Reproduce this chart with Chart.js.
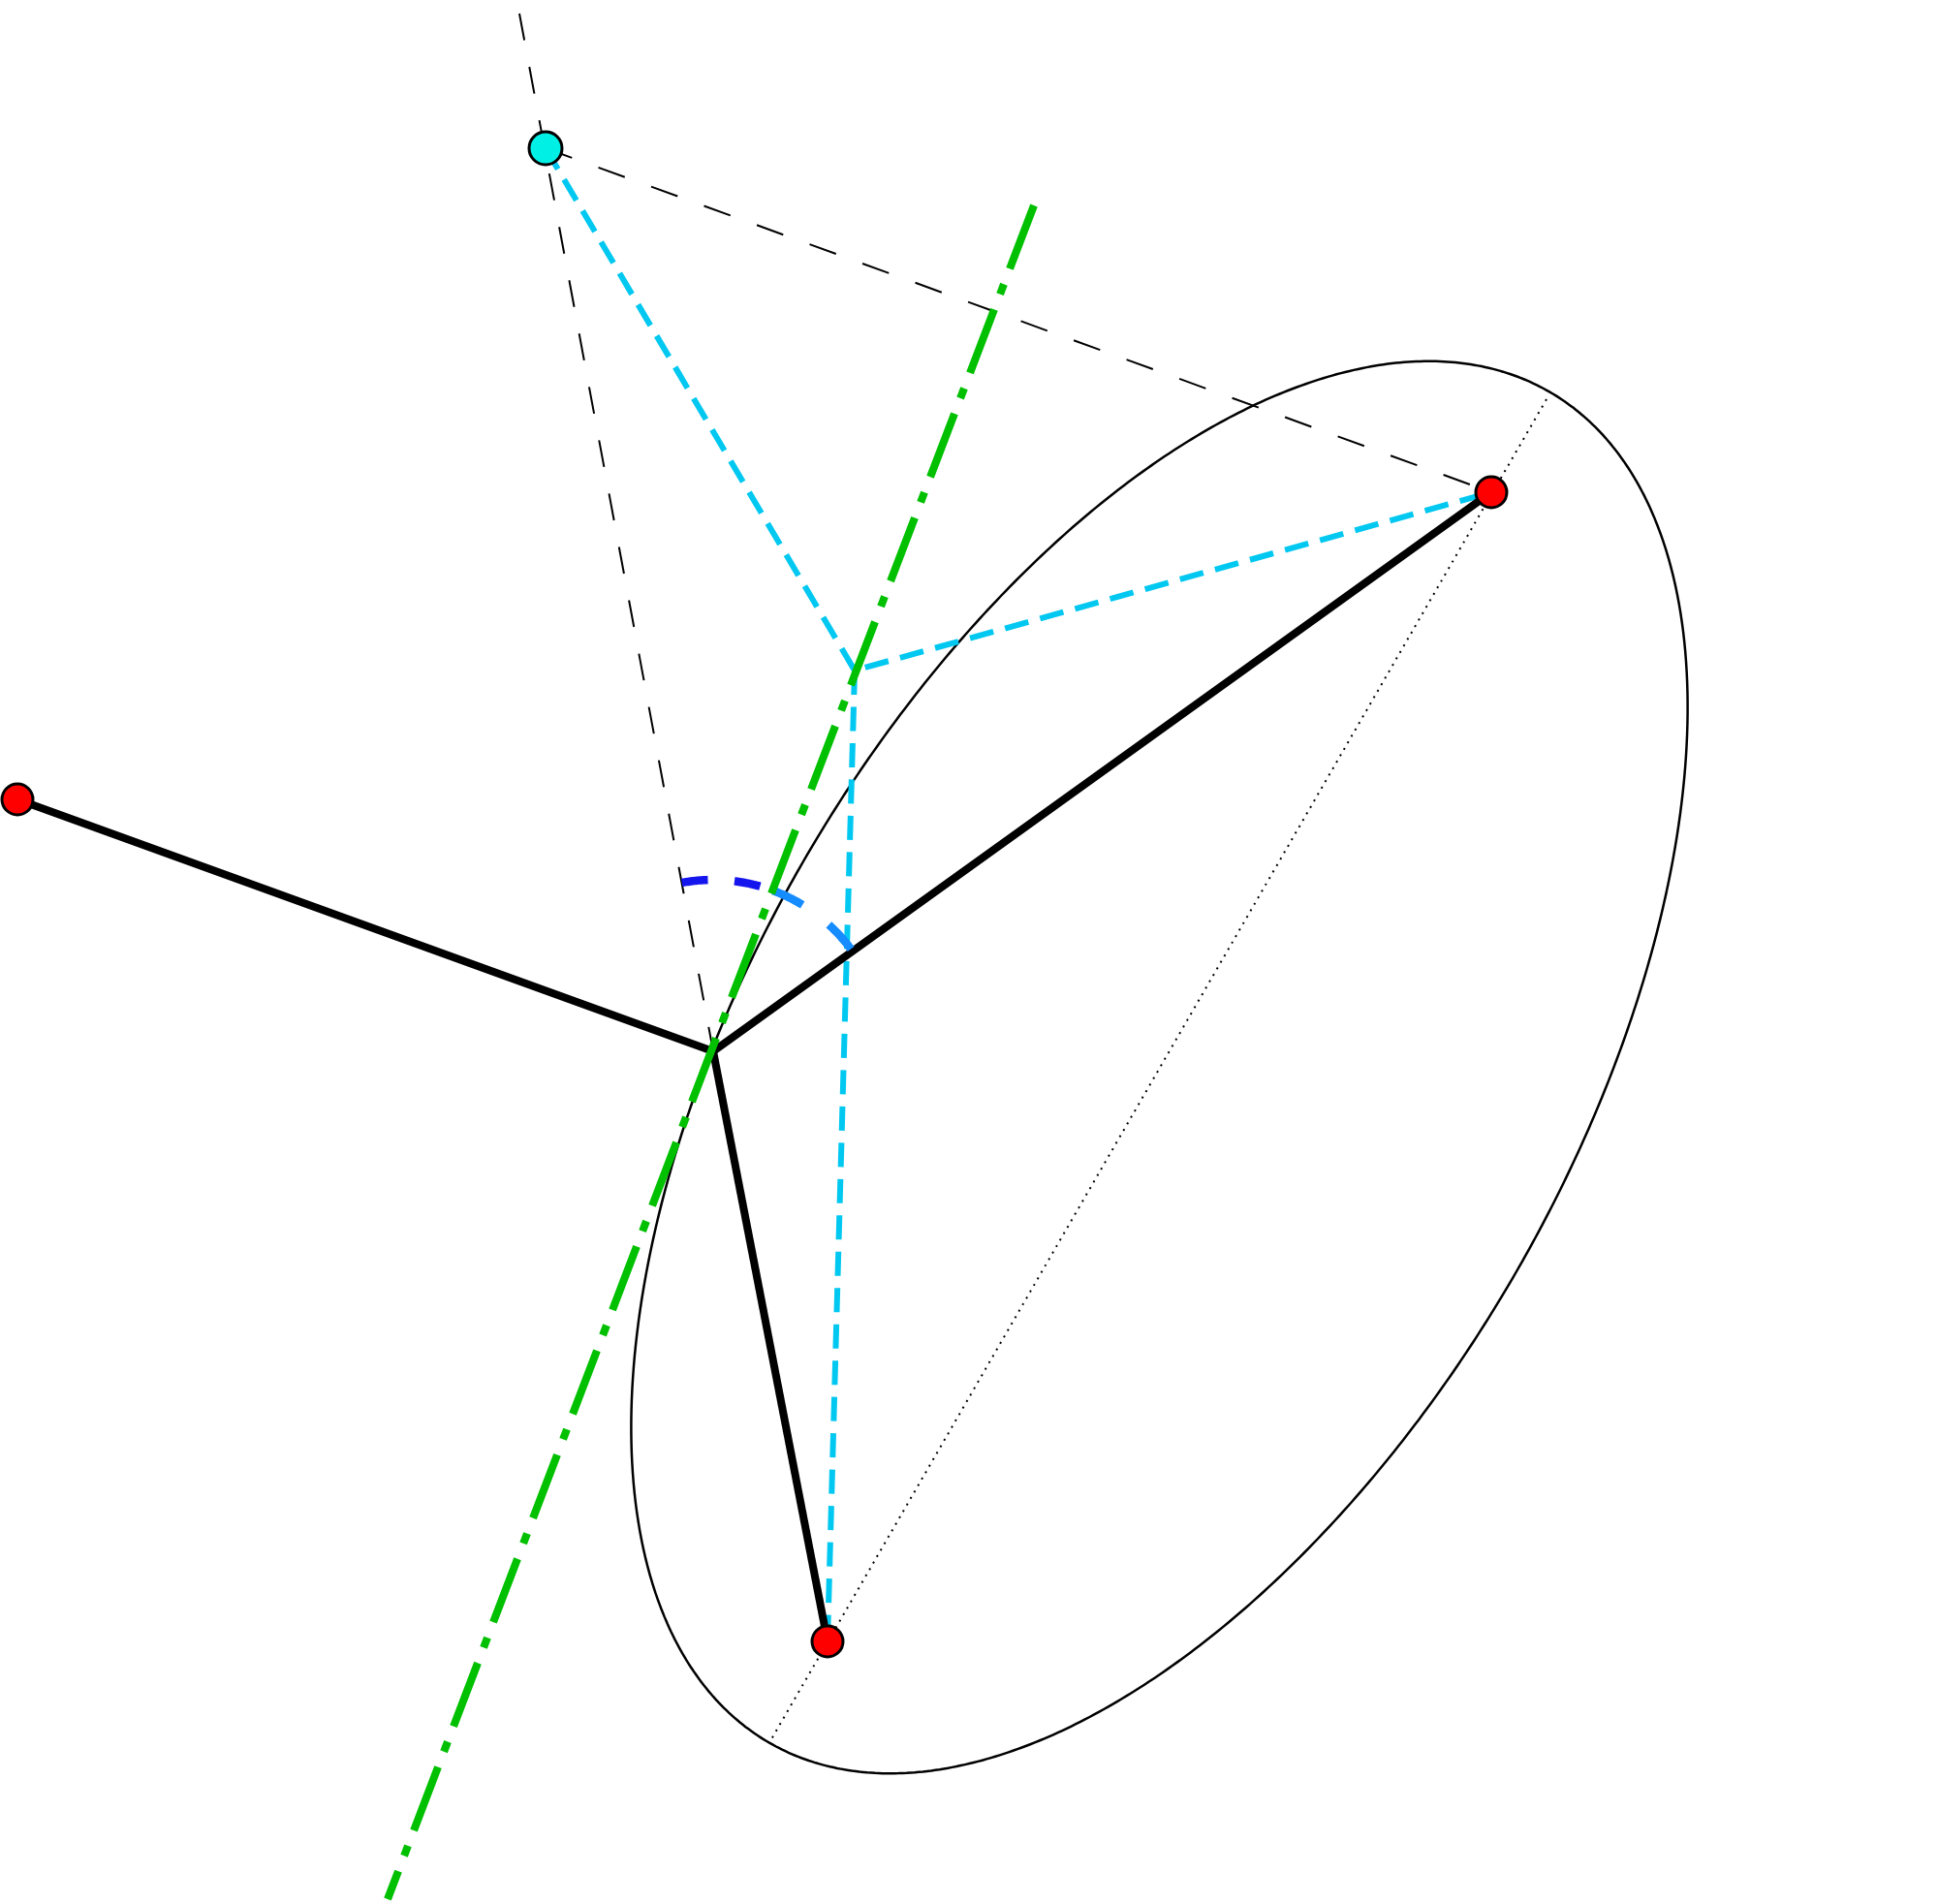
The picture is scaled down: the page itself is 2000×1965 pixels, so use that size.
<!DOCTYPE html>
<html>
<head>
<meta charset="utf-8">
<script src="https://cdn.jsdelivr.net/npm/chart.js@4.4.1/dist/chart.umd.min.js"></script>
<style>
  html, body { margin: 0; padding: 0; background: #fff; }
  #wrap { width: 2000px; height: 1965px; }
</style>
</head>
<body>
<div id="wrap"><canvas id="figure"></canvas></div>
<script>
// Points, on its own pixel grid (y grows downward)
var sourceXY = [18, 825];          // red point, far left
var focusA = [1539, 508];          // red point, upper focus
var focusB = [854, 1694];          // red point, lower focus
var imageXY = [563, 153];          // cyan point
var hitXY = [736, 1085];           // where the thick lines meet on the ellipse
var crossXY = [882, 692];          // where the cyan dashes meet, on the tangent
var tangentEnds = [[1067, 212], [400, 1960]];
var axisEnds = [[1596, 412], [796, 1795]];
var sightTop = [536, 14];

// Ellipse and angle arc
var ellipseCentre = [1196.5, 1101.5];
var ellipseSemi = [805, 424.5];
var ellipseTiltDeg = 60;
var arcRadius = 177;

function pt(p) { return { x: p[0], y: p[1] }; }

function ellipsePoints() {
  var out = [];
  var th = ellipseTiltDeg * Math.PI / 180;
  var ux = Math.cos(th), uy = -Math.sin(th);
  var vx = Math.sin(th), vy = Math.cos(th);
  for (var i = 0; i <= 360; i++) {
    var t = i * Math.PI / 180;
    var ca = ellipseSemi[0] * Math.cos(t), sb = ellipseSemi[1] * Math.sin(t);
    out.push({ x: ellipseCentre[0] + ca * ux + sb * vx, y: ellipseCentre[1] + ca * uy + sb * vy });
  }
  return out;
}

// arc round hitXY from the direction of one point to another
function arcPoints(fromP, toP) {
  var a0 = Math.atan2(fromP[1] - hitXY[1], fromP[0] - hitXY[0]);
  var a1 = Math.atan2(toP[1] - hitXY[1], toP[0] - hitXY[0]);
  var out = [];
  var n = 60;
  for (var i = 0; i <= n; i++) {
    var a = a0 + (a1 - a0) * i / n;
    out.push({ x: hitXY[0] + arcRadius * Math.cos(a), y: hitXY[1] + arcRadius * Math.sin(a) });
  }
  return out;
}

function line(data, color, width, dash, extra) {
  var ds = {
    data: data,
    showLine: true,
    borderColor: color,
    borderWidth: width,
    borderDash: dash || [],
    borderCapStyle: 'butt',
    borderJoinStyle: 'miter',
    pointRadius: 0,
    pointHoverRadius: 0,
    fill: false,
    tension: 0
  };
  for (var k in extra || {}) ds[k] = extra[k];
  return ds;
}

// first dataset is painted last (on top)
var datasets = [
  {
    data: [pt(sourceXY), pt(focusA), pt(focusB)],
    showLine: false,
    pointRadius: 16,
    pointBorderWidth: 3,
    pointBackgroundColor: '#ff0000',
    pointBorderColor: '#000000'
  },
  {
    data: [pt(imageXY)],
    showLine: false,
    pointRadius: 17,
    pointBorderWidth: 3,
    pointBackgroundColor: '#00f0e6',
    pointBorderColor: '#000000'
  },
  line([pt(tangentEnds[0]), pt(tangentEnds[1])], '#00c000', 8, [70, 17, 11, 17]),
  line(arcPoints(imageXY, crossXY), '#1515ee', 8.5, [27, 27.5]),
  line(arcPoints(crossXY, focusA), '#158cff', 8.5, [34, 34]),
  line([pt(sourceXY), pt(hitXY), pt(focusA)], '#000000', 8),
  line([pt(hitXY), pt(focusB)], '#000000', 8),
  line([pt(imageXY), pt(crossXY), pt(focusA)], '#00c8f0', 6, [25, 12.5]),
  line([pt(crossXY), pt(focusB)], '#00c8f0', 6, [25, 12.5]),
  line([pt(sightTop), pt(hitXY)], '#000000', 2, [28, 28]),
  line([pt(imageXY), pt(focusA)], '#000000', 2, [29, 29]),
  line([pt(axisEnds[0]), pt(axisEnds[1])], '#000000', 2, [2, 5.7]),
  // a touch of tension keeps Chart.js off its x-sorted fast path for the closed curve
  line(ellipsePoints(), '#000000', 2.5, [], { tension: 0.001 })
];

var ctx = document.getElementById('figure').getContext('2d');
var figure = new Chart(ctx, {
  type: 'scatter',
  data: { datasets: datasets },
  options: {
    responsive: true,
    maintainAspectRatio: false,
    devicePixelRatio: 1,
    animation: false,
    events: [],
    layout: { padding: 0, autoPadding: false },
    plugins: {
      legend: { display: false },
      tooltip: { enabled: false },
      title: { display: false }
    },
    scales: {
      x: { type: 'linear', min: 0, max: 2000, display: false },
      y: { type: 'linear', min: 0, max: 1965, reverse: true, display: false }
    }
  }
});
</script>
</body>
</html>
